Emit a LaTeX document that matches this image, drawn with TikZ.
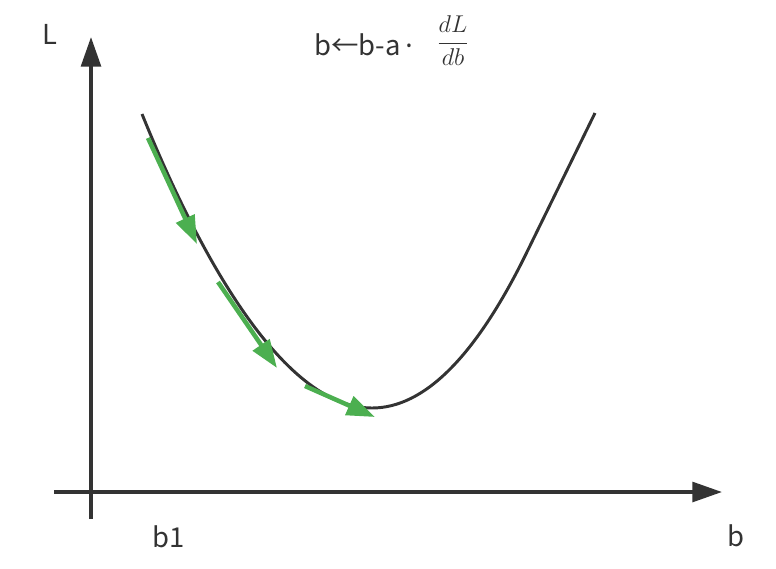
\documentclass[tikz,border=0pt]{standalone}
\usepackage{fontspec}
\setmainfont{Noto Sans CJK SC}
\newfontfamily\latinfont{Noto Sans}
\usepackage{tikz}
\usetikzlibrary{arrows.meta}
\definecolor{inkA}{HTML}{333333}
\definecolor{greenG}{HTML}{4CAF50}

\begin{document}
\begin{tikzpicture}[x=0.025cm,y=-0.025cm,>=Stealth,
    font=\fontsize{19.5}{23}\selectfont]
  \useasboundingbox (0,0) rectangle (776,568);
  % axes
  \coordinate (ybot) at (91,519);
  \coordinate (ytop) at (91,37);
  \coordinate (xleft) at (54,492);
  \coordinate (xright) at (722,492);
  \draw[inkA,line width=2.5pt,-{Triangle[length=21pt,width=14pt]}] (ybot) -- (ytop);
  \draw[inkA,line width=2.5pt,-{Triangle[length=21pt,width=14pt]}] (xleft) -- (xright);
  \node[inkA,anchor=base west,inner sep=0pt] (lblL) at (42,44) {L};
  \node[inkA,anchor=base west,inner sep=0pt] (lblb1) at (152,547) {b1};
  \node[inkA,anchor=base west,inner sep=0pt] (lblb) at (727,546) {b};
  % update rule
  \node[inkA,anchor=base west,inner sep=0pt] (rule) at (314,55) {b←b-a{\latinfont\,·}};
  \node[inkA,anchor=base,inner sep=0pt,font=\fontsize{16}{19}\selectfont]
        (grad) at (453,49) {$\displaystyle\frac{dL}{db}$};
  % loss curve
  \draw[inkA,line width=2.1pt]
        (142,114) .. controls (195,245) and (280,408) .. (372,408)
        .. controls (424,408) and (475,357) .. (525,256)
        -- (595,113);
  % descent steps
  \draw[greenG,line width=3.2pt,-{Triangle[length=20pt,width=14pt]}] (148,138) -- (197,244);
  \draw[greenG,line width=3.2pt,-{Triangle[length=20pt,width=14pt]}] (218,282) -- (277,368);
  \draw[greenG,line width=3.2pt,-{Triangle[length=20pt,width=14pt]}] (305,386) -- (375,417);
\end{tikzpicture}
\end{document}
